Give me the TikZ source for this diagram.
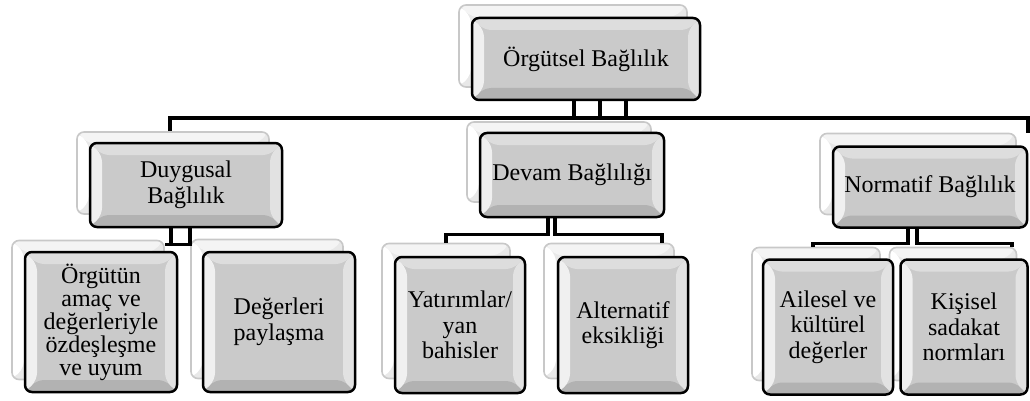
\documentclass[tikz,border=0pt]{standalone}
\usepackage{fontspec}
\setmainfont{Liberation Serif}
\definecolor{bvmid}{HTML}{CACACA}
\definecolor{bvtop}{HTML}{DDDDDD}
\definecolor{bvleft}{HTML}{F0F0F0}
\definecolor{bvright}{HTML}{E2E2E2}
\definecolor{bvbot}{HTML}{B2B2B2}
\definecolor{backline}{HTML}{C8C8C8}
\definecolor{backfill}{HTML}{E8E8E8}
\definecolor{backtop}{HTML}{F4F4F4}

\begin{document}
\begin{tikzpicture}[x=1pt, y=-1pt,
    backbox/.style={rectangle, rounded corners=7pt, draw=backline, line width=1.6pt, fill=backfill, inner sep=0pt,
        path picture={
            \fill[backtop] (path picture bounding box.north west) -- (path picture bounding box.north east)
                -- ([shift={(-12pt,-12pt)}]path picture bounding box.north east) -- ([shift={(12pt,-12pt)}]path picture bounding box.north west) -- cycle;
            \fill[white] (path picture bounding box.north west) -- (path picture bounding box.south west)
                -- ([shift={(12pt,12pt)}]path picture bounding box.south west) -- ([shift={(12pt,-12pt)}]path picture bounding box.north west) -- cycle;
        }},
    frontbox/.style={rectangle, rounded corners=7pt, draw=black, line width=2.5pt, fill=bvmid, inner sep=0pt,
        align=center, font=\fontsize{24}{25.5}\selectfont,
        path picture={
            \fill[bvtop] (path picture bounding box.north west) -- (path picture bounding box.north east)
                -- ([shift={(-12pt,-12pt)}]path picture bounding box.north east) -- ([shift={(12pt,-12pt)}]path picture bounding box.north west) -- cycle;
            \fill[bvbot] (path picture bounding box.south west) -- (path picture bounding box.south east)
                -- ([shift={(-12pt,12pt)}]path picture bounding box.south east) -- ([shift={(12pt,12pt)}]path picture bounding box.south west) -- cycle;
            \fill[bvleft] (path picture bounding box.north west) -- (path picture bounding box.south west)
                -- ([shift={(12pt,12pt)}]path picture bounding box.south west) -- ([shift={(12pt,-12pt)}]path picture bounding box.north west) -- cycle;
            \fill[bvright] (path picture bounding box.north east) -- (path picture bounding box.south east)
                -- ([shift={(-12pt,12pt)}]path picture bounding box.south east) -- ([shift={(-12pt,-12pt)}]path picture bounding box.north east) -- cycle;
        }},
    link/.style={draw=black, line width=3.4pt}
]
\useasboundingbox (0,0) rectangle (1030,401);

% back boxes
\node[backbox, minimum width=228pt, minimum height=82pt] (orgB) at (573,46) {};
\node[backbox, minimum width=192pt, minimum height=82pt] (duyB) at (173,173) {};
\node[backbox, minimum width=184pt, minimum height=80pt] (devB) at (559,162) {};
\node[backbox, minimum width=196pt, minimum height=81pt] (norB) at (918,174) {};
\node[backbox, minimum width=152pt, minimum height=139pt] (dc1B) at (88,310) {};
\node[backbox, minimum width=152pt, minimum height=139pt] (dc2B) at (267,309) {};
\node[backbox, minimum width=128pt, minimum height=135pt] (vc1B) at (446,311) {};
\node[backbox, minimum width=130pt, minimum height=135pt] (vc2B) at (609,311) {};
\node[backbox, minimum width=128pt, minimum height=133pt] (nc1B) at (816,314) {};
\node[backbox, minimum width=127pt, minimum height=133pt] (nc2B) at (953,314) {};

% connectors
\coordinate (busL) at (170,118);
\coordinate (busR) at (1028,118);
\draw[link] (busL |- duyB.north) -- (busL) -- (busR) -- (busR |- norB.north);
\foreach \dx in {-12,14,40}
    \draw[link] ([xshift=\dx pt]orgB.south -| 586,0) -- ([xshift=\dx pt]busL -| 586,0);

\draw[link] ([xshift=-15pt]duyB.south -| 186,0) |- ([yshift=-5pt]dc1B.north east);
\draw[link] ([xshift=4pt]duyB.south -| 186,0) |- ([yshift=-5pt]dc1B.north east);

\draw[link] ([xshift=-24pt]devB.south -| 572,0) |- ([yshift=8pt]vc1B.north) -- (vc1B.north);
\draw[link] ([xshift=-17pt]devB.south -| 572,0) |- ([xshift=53pt,yshift=8pt]vc2B.north) -- ([xshift=53pt]vc2B.north);

\draw[link] ([xshift=-23pt]norB.south -| 931,0) |- ([xshift=-3pt,yshift=3pt]nc1B.north) -- ([xshift=-3pt]nc1B.north);
\draw[link] ([xshift=-14pt]norB.south -| 931,0) |- ([xshift=59pt,yshift=3pt]nc2B.north) -- ([xshift=59pt]nc2B.north);

% front boxes
\node[frontbox, minimum width=228pt, minimum height=82pt] (org) at (586,59) {Örgütsel Bağlılık};
\node[frontbox, minimum width=192pt, minimum height=84pt] (duy) at (186,185) {Duygusal\\Bağlılık};
\node[frontbox, minimum width=184pt, minimum height=84pt] (dev) at (572,175) {Devam Bağlılığı};
\node[frontbox, minimum width=194pt, minimum height=81pt] (nor) at (930,187) {Normatif Bağlılık};
\node[frontbox, minimum width=152pt, minimum height=140pt, font=\fontsize{24}{23}\selectfont] (dc1) at (101,322) {Örgütün\\amaç ve\\değerleriyle\\özdeşleşme\\ve uyum};
\node[frontbox, minimum width=152pt, minimum height=140pt] (dc2) at (279,322) {Değerleri\\paylaşma};
\node[frontbox, minimum width=130pt, minimum height=136pt] (vc1) at (460,325) {Yatırımlar/\\yan\\bahisler};
\node[frontbox, minimum width=130pt, minimum height=136pt] (vc2) at (623,325) {Alternatif\\eksikliği};
\node[frontbox, minimum width=130pt, minimum height=135pt] (nc1) at (828,327) {Ailesel ve\\kültürel\\değerler};
\node[frontbox, minimum width=127pt, minimum height=135pt] (nc2) at (964,327) {Kişisel\\sadakat\\normları};

\end{tikzpicture}
\end{document}
